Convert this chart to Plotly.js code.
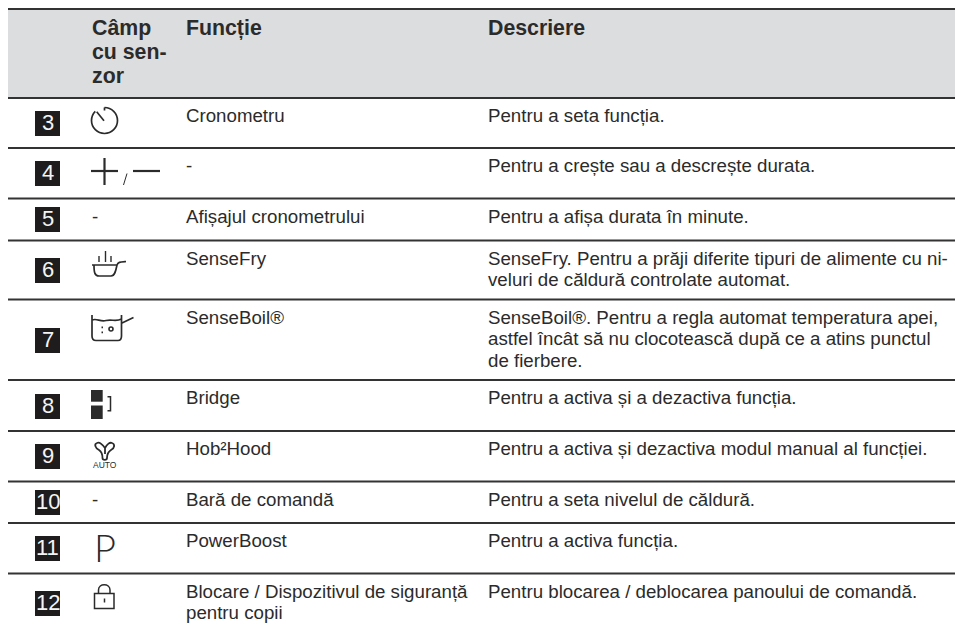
<!DOCTYPE html>
<html>
<head>
<meta charset="utf-8">
<script src="https://cdn.plot.ly/plotly-3.0.1.min.js"></script>
<style>html,body{margin:0;padding:0;background:#fff}#c{width:955px;height:630px}</style>
</head>
<body>
<div id="c"></div>
<script>
var rowNumbers = ["3","4","5","6","7","8","9","10","11","12"];
var headers = ["Câmp<br>cu sen-<br>zor", "Funcție", "Descriere"];
var sensorText = ["","","-","","","","","-","",""];
var functions = ["Cronometru","-","Afișajul cronometrului","SenseFry","SenseBoil®","Bridge","Hob²Hood","Bară de comandă","PowerBoost","Blocare / Dispozitivul de siguranță<br>pentru copii"];
var descriptions = [
 "Pentru a seta funcția.",
 "Pentru a crește sau a descrește durata.",
 "Pentru a afișa durata în minute.",
 "SenseFry. Pentru a prăji diferite tipuri de alimente cu ni-<br>veluri de căldură controlate automat.",
 "SenseBoil®. Pentru a regla automat temperatura apei,<br>astfel încât să nu clocotească după ce a atins punctul<br>de fierbere.",
 "Pentru a activa și a dezactiva funcția.",
 "Pentru a activa și dezactiva modul manual al funcției.",
 "Pentru a seta nivelul de căldură.",
 "Pentru a activa funcția.",
 "Pentru blocarea / deblocarea panoului de comandă."
];

// layout constants
var FONT = '"Liberation Sans", Arial, sans-serif';
var INK = '#2b2b2b';
var ruleY = [9,98,148,198.5,240.5,299.5,380,431,481.5,523,573.5];
var boxTop = [111,161,207,258,328,394,444,490,536,591];
var BODY = 18.7, HEAD = 21.3, LH = 21.7, HLH = 24;

var shapes = [], ann = [];
function rect(x0,y0,x1,y1,c){shapes.push({type:'rect',xref:'x',yref:'y',x0:x0,y0:y0,x1:x1,y1:y1,fillcolor:c,line:{width:0},layer:'below'});}
function line(x0,y0,x1,y1,w,c){shapes.push({type:'line',xref:'x',yref:'y',x0:x0,y0:y0,x1:x1,y1:y1,line:{width:w,color:c||INK}});}
function path(d,w,fill){shapes.push({type:'path',xref:'x',yref:'y',path:d,line:{width:w,color:INK},fillcolor:fill||'rgba(0,0,0,0)'});}
function text(t,x,y,size,opts){opts=opts||{};
  ann.push({xref:'x',yref:'y',x:x,y:y,text:t,showarrow:false,xanchor:opts.xa||'left',yanchor:'top',align:opts.xa==='center'?'center':'left',borderpad:0,borderwidth:0,
    font:{family:opts.family||FONT,size:size,color:opts.color||INK,weight:opts.weight||400}});
}
function cell(t,x,y,size,lh,weight){
  t.split('<br>').forEach(function(l,i){text(l,x,y+i*lh,size,{weight:weight});});
}

rect(8,9,955,98,'#dcddde');
ruleY.forEach(function(y){line(8,y,955,y,2,'#333333');});

cell(headers[0],91.5,15.5,HEAD,HLH,700);
cell(headers[1],186,15.5,HEAD,HLH,700);
cell(headers[2],488,15.5,HEAD,HLH,700);

rowNumbers.forEach(function(n,i){
  rect(35,boxTop[i],60,boxTop[i]+25,'#1f1c1d');
  text(n,47.5,boxTop[i]-1,22,{xa:'center',color:'#f4f4f4'});
  var y = ruleY[i+1]+7;
  cell(functions[i],186,y,BODY,LH);
  cell(descriptions[i],488,y,BODY,LH);
  if(sensorText[i]) text(sensorText[i],91.5,boxTop[i]-1,BODY);
});

// icons
path('M104.5 107.5 C111.68 107.5 117.5 113.32 117.5 120.5 C117.5 127.68 111.68 133.5 104.5 133.5 C97.32 133.5 91.5 127.68 91.5 120.5 C91.5 117.05 92.86 113.74 95.3 111.3',1.7);
line(104.5,107.5,104.5,110.5,1.7);
line(104,120.7,96.7,111.7,1.7);
line(91,171,118,171,2.2); line(104.5,158,104.5,185,2.2);
line(123.5,185,127,173.5,1);
line(133,171,160,171,2.2);
line(99,256,99,262,1.4); line(105.5,251,105.5,262,1.4); line(111,256,111,262,1.4);
path('M92 265 L117 265 M94 265 C94 272 94.5 276 99 276 L111 276 C115 276 116 270 117 265 C118 262 120 262 126 261.5',1.7);
path('M92 315 L92 336 C92 339 93 340.5 96 340.5 L118 340.5 C120.5 340.5 121.5 339 121.5 336 L121.5 315 M92 320 C97 318 100 322 106 320.5 C112 319 116 322 121.5 319 M122 323 L133.5 317.5',1.7);
path('M101.5 327.3 L103 327.3 M101.5 332.3 L103 332.3',1.7);
shapes.push({type:'circle',xref:'x',yref:'y',x0:109,y0:327,x1:113,y1:331,line:{width:1.6,color:INK}});
rect(91,390,102.7,401.7,INK); rect(91,405.5,102.7,419,INK);
path('M107.5 396.7 L110.5 396.7 L110.5 410.7 L107.5 410.7',1.5);
path('M105 448 C102 444 99 442 97 443 C94 444 95 448 99 450 C102 452 102.5 455 102.5 458 C102.5 460.5 107 460.5 107 458 C107 455 108 452 111 450 C115 448 115 444 112 443 C110 442 107 444 105 448 Z M105 448 L105 454',1.8);
text('AUTO',105,460,8.5,{xa:'center'});
text('P',93.5,524,38,{family:'Lato, "Noto Sans", sans-serif',weight:300});
shapes.push({type:'rect',xref:'x',yref:'y',x0:94.5,y0:593.5,x1:114,y1:608.5,line:{width:1.5,color:INK}});
path('M98.5 593.5 L98.5 590 C98.5 583 110 583 110 590 L110 593.5',1.5);
line(104.5,598.5,104.5,602.5,1.5);

Plotly.newPlot('c',[],{
  width:955,height:630,margin:{l:0,r:0,t:0,b:0},paper_bgcolor:'#fff',plot_bgcolor:'#fff',
  xaxis:{range:[0,955],visible:false,fixedrange:true},
  yaxis:{range:[630,0],visible:false,fixedrange:true},
  showlegend:false,shapes:shapes,annotations:ann
},{displayModeBar:false,staticPlot:true});
</script>
</body>
</html>
